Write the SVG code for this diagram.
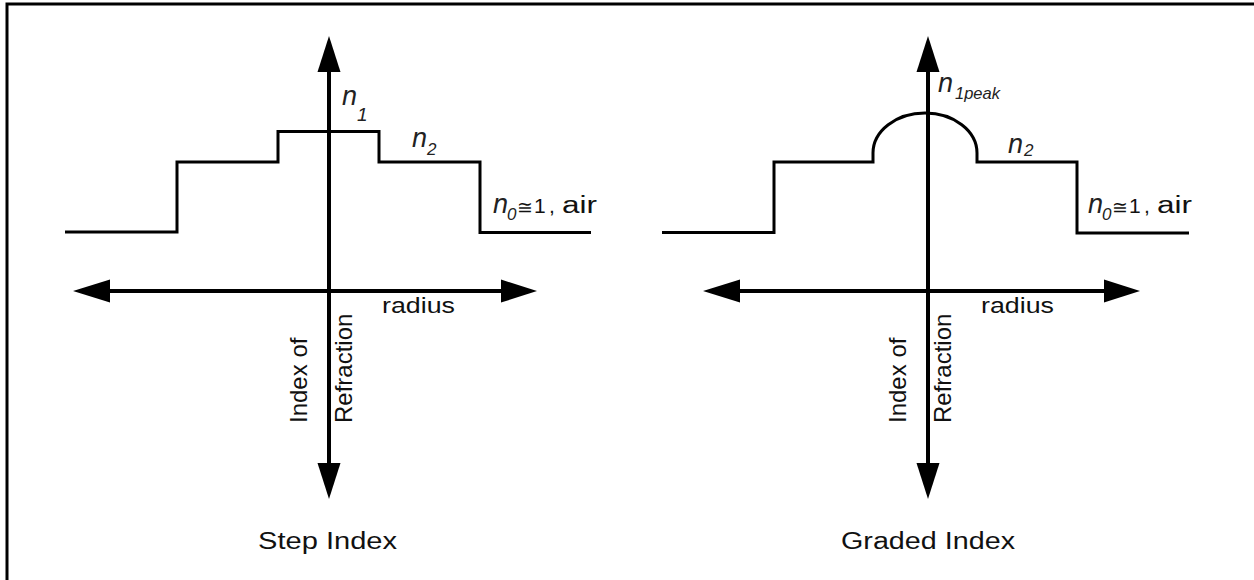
<svg xmlns="http://www.w3.org/2000/svg" width="1254" height="580" viewBox="0 0 1254 580">
<style>
.ax{stroke:#000;stroke-width:4;fill:none}
.pr{stroke:#000;stroke-width:3;fill:none;stroke-linejoin:miter}
.ah{fill:#000;stroke:none}
.t{font-family:"Liberation Sans",Arial,sans-serif;fill:#111}
.n{font-family:"Liberation Sans",Arial,sans-serif;font-style:italic;font-size:27px;fill:#222}
.s{font-family:"Liberation Sans",Arial,sans-serif;font-style:italic;fill:#222}
</style>
<rect x="7" y="4" width="1262" height="592" fill="#fff" stroke="#000" stroke-width="3"/>
<g id="connectors">
<line class="ax" x1="329" y1="70" x2="329" y2="465"/>
<polygon class="ah" points="329,36 317.5,72 340.5,72"/>
<polygon class="ah" points="329,499 317.5,463 340.5,463"/>
<line class="ax" x1="108" y1="291" x2="503" y2="291"/>
<polygon class="ah" points="73,291 110,279.5 110,302.5"/>
<polygon class="ah" points="537,291 501,279.5 501,302.5"/>
<line class="ax" x1="928" y1="70" x2="928" y2="465"/>
<polygon class="ah" points="928,36 916.5,72 939.5,72"/>
<polygon class="ah" points="928,499 916.5,463 939.5,463"/>
<line class="ax" x1="738" y1="291" x2="1106" y2="291"/>
<polygon class="ah" points="703,291 740,279.5 740,302.5"/>
<polygon class="ah" points="1140,291 1104,279.5 1104,302.5"/>
</g>
<g id="step-index">
<path class="pr" d="M65,232 L177,232 L177,162 L278,162 L278,131.5 L379,131.5 L379,162 L480,162 L480,232.5 L591,232.5"/>
<text class="n" x="342" y="105">n</text><text class="s" x="357" y="121" font-size="19">1</text>
<text class="n" x="412" y="147">n</text><text class="s" x="427" y="155" font-size="17">2</text>
<text class="n" x="493" y="213">n</text><text class="s" x="507" y="220" font-size="17">0</text>
<text class="t" x="517" y="214" font-size="19">≅</text>
<text class="t" x="534 549" y="213" font-size="21">1,</text>
<text class="t" x="562" y="213" font-size="23" textLength="35" lengthAdjust="spacingAndGlyphs">air</text>
<text class="t" x="382" y="313" font-size="22" textLength="73" lengthAdjust="spacingAndGlyphs">radius</text>
<text class="t" font-size="24" transform="translate(307,423) rotate(-90)">Index of</text>
<text class="t" font-size="24" transform="translate(352,423) rotate(-90)">Refraction</text>
<text class="t" x="258" y="549" font-size="23" textLength="139" lengthAdjust="spacingAndGlyphs">Step Index</text>
</g>
<g id="graded-index">
<path class="pr" d="M662,232.5 L774,232.5 L774,162 L873,162 L873,153 A52,40 0 0 1 977,153 L977,162 L1077,162 L1077,233 L1189,233"/>
<text class="n" x="938" y="92">n</text><text class="s" x="955" y="99" font-size="17" textLength="45" lengthAdjust="spacingAndGlyphs">1peak</text>
<text class="n" x="1008" y="153">n</text><text class="s" x="1024" y="156" font-size="17">2</text>
<text class="n" x="1088" y="213">n</text><text class="s" x="1102" y="220" font-size="17">0</text>
<text class="t" x="1112" y="214" font-size="19">≅</text>
<text class="t" x="1129 1144" y="213" font-size="21">1,</text>
<text class="t" x="1157" y="213" font-size="23" textLength="35" lengthAdjust="spacingAndGlyphs">air</text>
<text class="t" x="981" y="313" font-size="22" textLength="73" lengthAdjust="spacingAndGlyphs">radius</text>
<text class="t" font-size="24" transform="translate(906,423) rotate(-90)">Index of</text>
<text class="t" font-size="24" transform="translate(951,423) rotate(-90)">Refraction</text>
<text class="t" x="841" y="549" font-size="23" textLength="174" lengthAdjust="spacingAndGlyphs">Graded Index</text>
</g>
</svg>
